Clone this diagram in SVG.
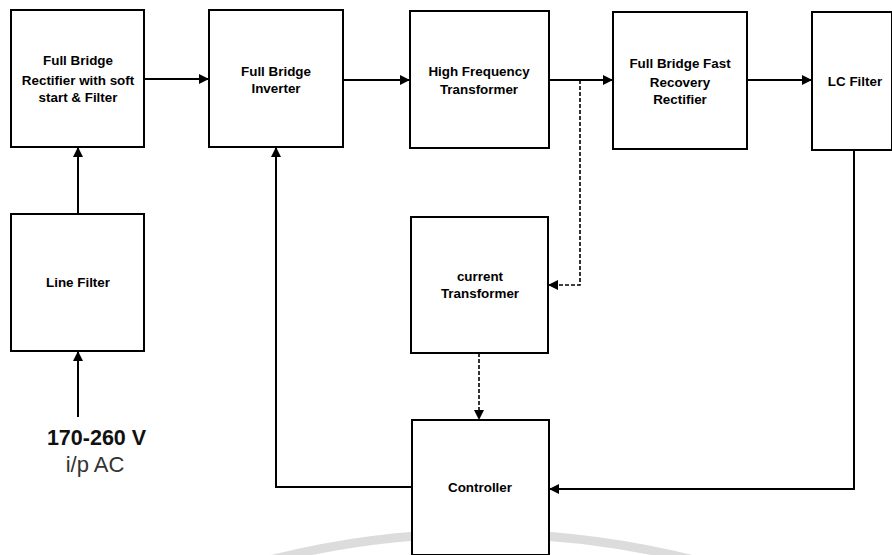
<svg xmlns="http://www.w3.org/2000/svg" width="892" height="555" viewBox="0 0 892 555">
<defs>
<marker id="ah" viewBox="0 0 10 10" refX="10" refY="5" markerWidth="10" markerHeight="10" markerUnits="userSpaceOnUse" orient="auto">
<path d="M0,0 L10,5 L0,10 z" fill="#000"/>
</marker>
</defs>
<style>
.box{fill:#fff;stroke:#000;stroke-width:2}
.lbl{font-family:"Liberation Sans",Arial,sans-serif;font-weight:bold;font-size:13.4px;text-anchor:middle;fill:#000}
.c{fill:none;stroke:#000;stroke-width:2}
.d{stroke-dasharray:4 2;stroke-width:1.6}
</style>
<rect width="892" height="555" fill="#fff"/>
<path d="M 262 562 Q 480 505 702 562" fill="none" stroke="#dcdcdc" stroke-width="9"/>
<g id="connectors">
<line class="c" x1="144" y1="79" x2="209" y2="79" marker-end="url(#ah)"/>
<line class="c" x1="343" y1="80" x2="410" y2="80" marker-end="url(#ah)"/>
<line class="c" x1="549" y1="80" x2="613" y2="80" marker-end="url(#ah)"/>
<line class="c" x1="747" y1="80" x2="812" y2="80" marker-end="url(#ah)"/>
<line class="c" x1="78" y1="214" x2="78" y2="147" marker-end="url(#ah)"/>
<line class="c" x1="78" y1="417" x2="78" y2="351" marker-end="url(#ah)"/>
<polyline class="c d" points="580,80 580,285 548,285" marker-end="url(#ah)"/>
<line class="c d" x1="479" y1="353" x2="479" y2="420" marker-end="url(#ah)"/>
<polyline class="c" points="412,487 276,487 276,147" marker-end="url(#ah)"/>
<polyline class="c" points="854,150 854,489 549,489" marker-end="url(#ah)"/>
</g>
<g id="rectifier">
<rect class="box" x="11" y="10" width="133" height="137"/>
<text class="lbl" x="78" y="65">Full Bridge</text>
<text class="lbl" x="78" y="85">Rectifier with soft</text>
<text class="lbl" x="78" y="102">start &amp; Filter</text>
</g>
<g id="inverter">
<rect class="box" x="209" y="10" width="134" height="137"/>
<text class="lbl" x="276" y="76">Full Bridge</text>
<text class="lbl" x="276" y="93">Inverter</text>
</g>
<g id="hf-transformer">
<rect class="box" x="410" y="11" width="139" height="137"/>
<text class="lbl" x="479" y="76">High Frequency</text>
<text class="lbl" x="479" y="94">Transformer</text>
</g>
<g id="fast-recovery-rectifier">
<rect class="box" x="613" y="12" width="134" height="137"/>
<text class="lbl" x="680" y="68">Full Bridge Fast</text>
<text class="lbl" x="680" y="87">Recovery</text>
<text class="lbl" x="680" y="104">Rectifier</text>
</g>
<g id="lc-filter">
<rect class="box" x="812" y="12" width="80" height="138"/>
<text class="lbl" x="855" y="86">LC Filter</text>
</g>
<g id="line-filter">
<rect class="box" x="11" y="214" width="133" height="137"/>
<text class="lbl" x="78" y="287">Line Filter</text>
</g>
<g id="current-transformer">
<rect class="box" x="411" y="217" width="137" height="136"/>
<text class="lbl" x="480" y="281">current</text>
<text class="lbl" x="480" y="298">Transformer</text>
</g>
<g id="controller">
<rect class="box" x="412" y="420" width="137" height="135"/>
<text class="lbl" x="480" y="492">Controller</text>
</g>
<g id="input">
<text x="96.5" y="445" style="font-family:'Liberation Sans',Arial,sans-serif;font-size:21.5px;font-weight:bold;text-anchor:middle;fill:#111">170-260 V</text>
<text x="95" y="472" style="font-family:'Liberation Sans',Arial,sans-serif;font-size:22px;text-anchor:middle;fill:#333">i/p AC</text>
</g>
</svg>
